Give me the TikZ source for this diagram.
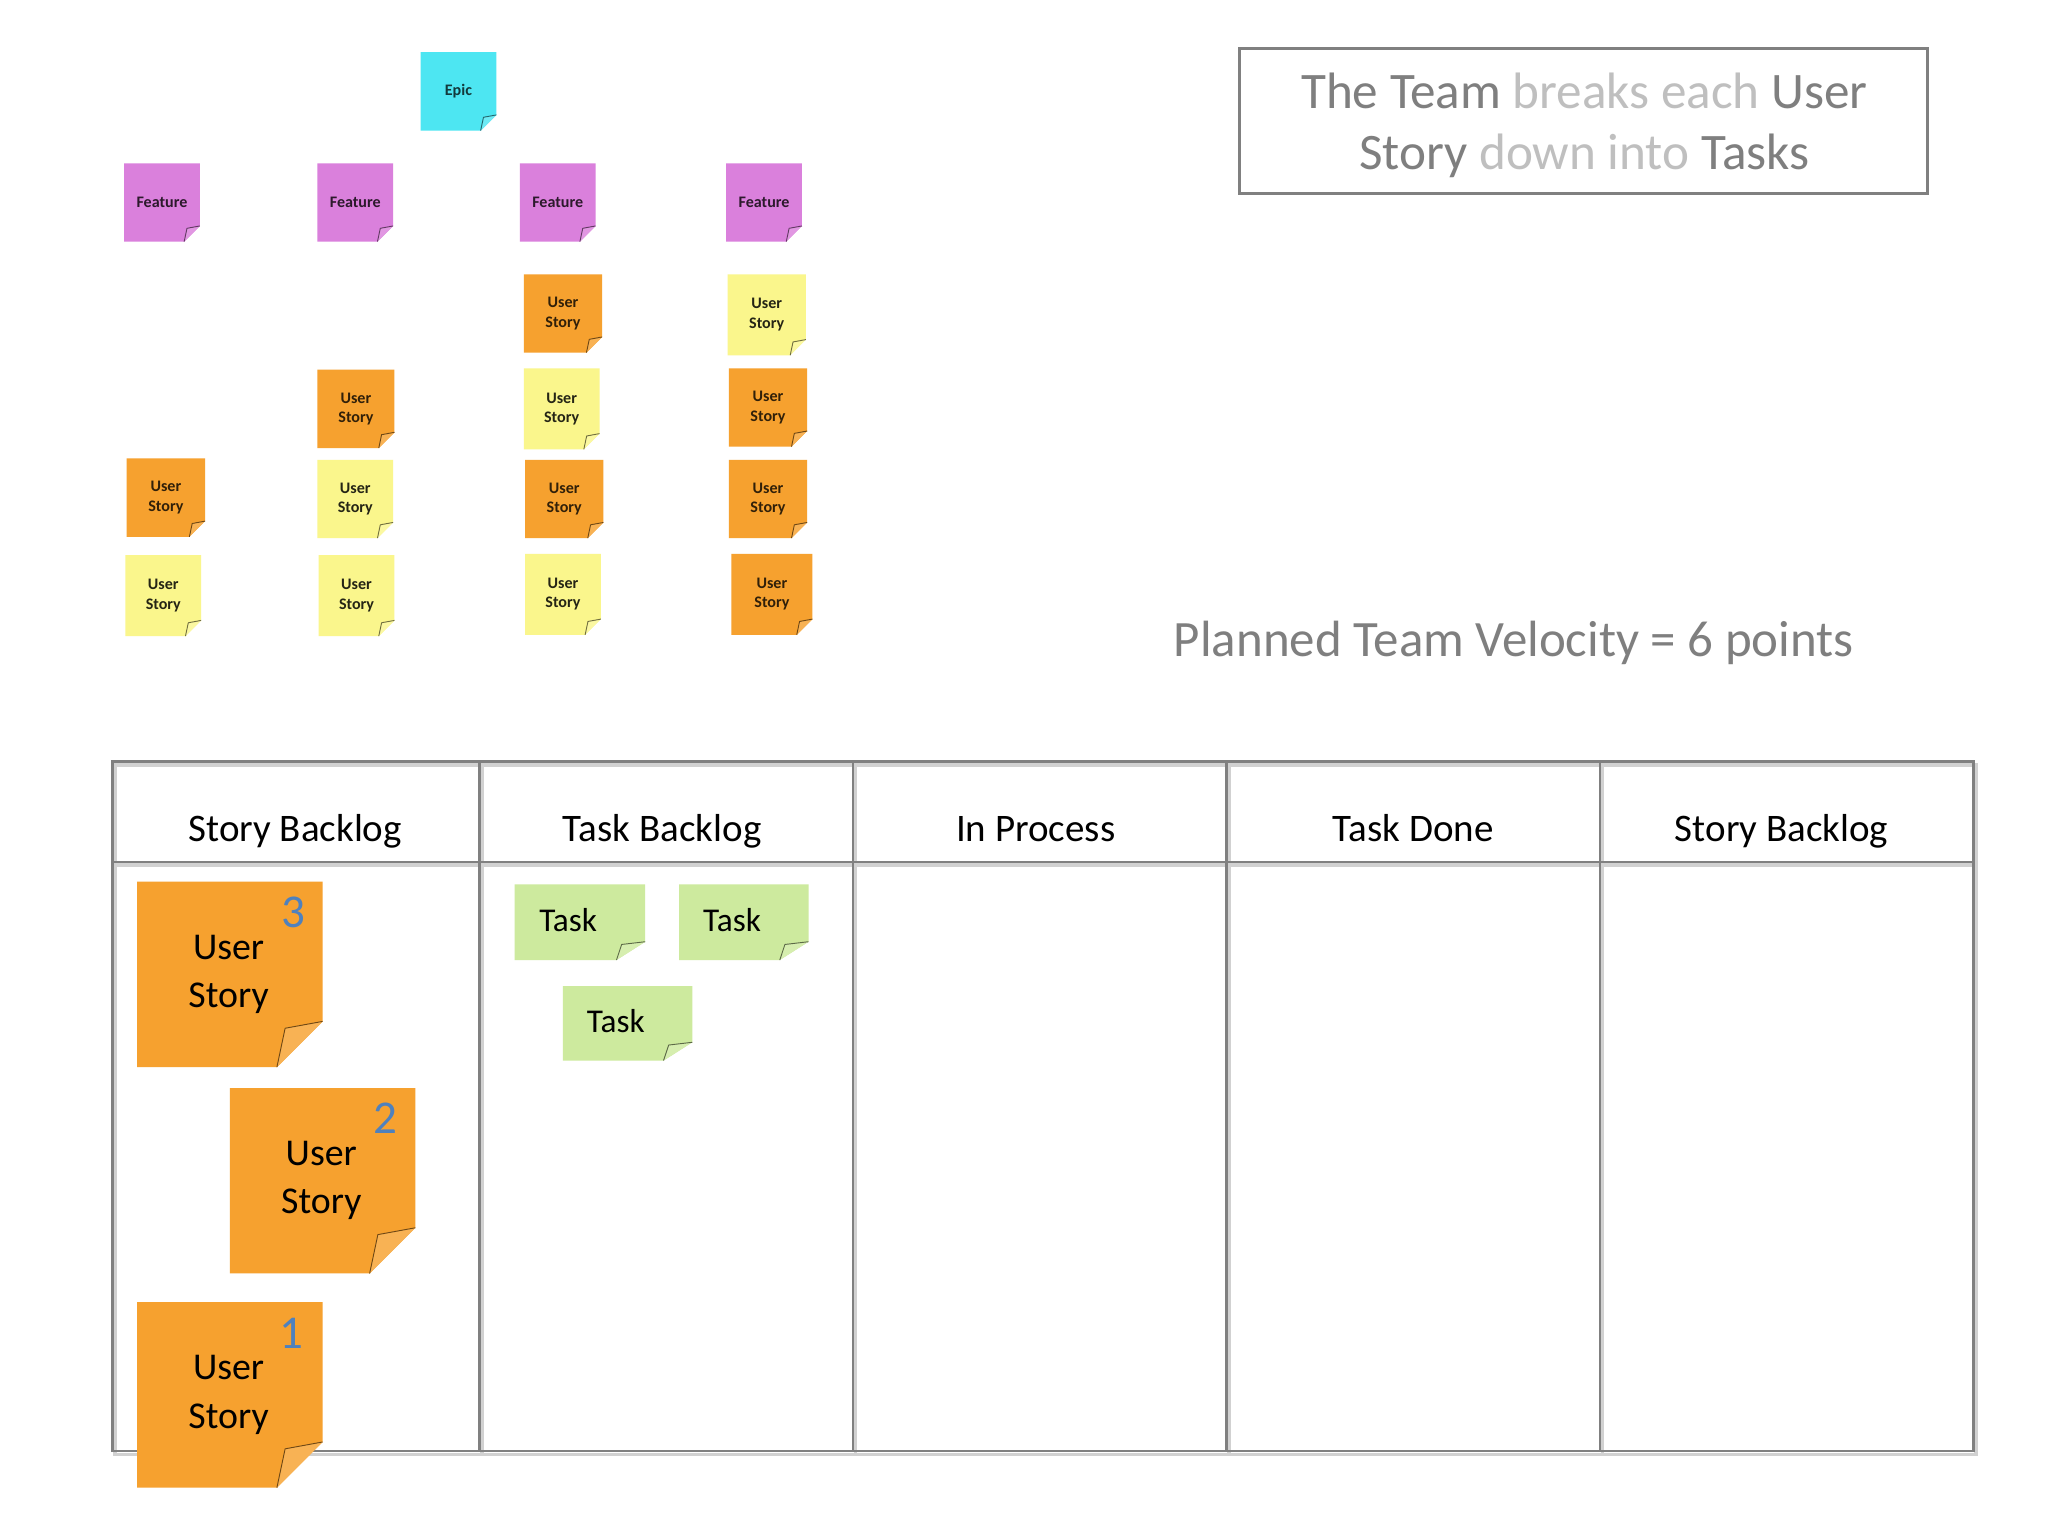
\documentclass[tikz,border=0pt]{standalone}
\usepackage{fontspec}
\setmainfont{Carlito}
\definecolor{orangeS}{HTML}{F6A12F}
\definecolor{yellowS}{HTML}{FAF68C}
\definecolor{purpleS}{HTML}{DA80DC}
\definecolor{cyanS}{HTML}{4DE6F2}
\definecolor{greenS}{HTML}{CDEA9E}
\definecolor{numblue}{HTML}{4F81BD}
\definecolor{linegray}{HTML}{808080}
\definecolor{darkgrayT}{HTML}{7F7F7F}
\definecolor{lightgrayT}{HTML}{BFBFBF}
\colorlet{stickcol}{orangeS}
\def\tfont{\normalsize}
\def\tcol{black}
\tikzset{
  sfill/.code={\colorlet{stickcol}{#1}},
  fw/.store in=\fw, fh/.store in=\fh,
  tx/.store in=\tx, ty/.store in=\ty,
  tfont/.store in=\tfont, tcol/.store in=\tcol,
  fw=12, fh=12, tx=0, ty=0,
  stext/.style={inner sep=0pt, align=center, font=\tfont, text=\tcol},
  smallst/.style={fw=12, fh=12, tfont={\fontsize{7}{8.5}\selectfont\bfseries}},
  bigst/.style={sfill=orangeS, fw=35, fh=35, tx=-1, tfont={\fontsize{16.5}{21}\selectfont}},
  taskst/.style={sfill=greenS, fw=22, fh=14, tx=-9, ty=-1.5, tfont={\fontsize{14.5}{17}\selectfont}},
  num/.style={inner sep=0pt, text=numblue, font=\fontsize{20.5}{24}\selectfont},
  head/.style={inner sep=0pt, anchor=base, font=\fontsize{17}{20}\selectfont},
  grid/.style={draw=linegray, line width=1.2pt},
  gridshadow/.style={draw=black!18, line width=1.6pt},
}
\newcommand\stick[7]{%
\begin{scope}[#1]
\fill[stickcol] (#3,#4) -- ({#3+#5},#4) -- ({#3+#5},{#4+#6-\fh}) -- ({#3+#5-\fw},{#4+#6}) -- (#3,{#4+#6}) -- cycle;
\filldraw[fill=stickcol!82!white, draw=stickcol!45!black, line width=0.4pt, line join=round]
  ({#3+#5},{#4+#6-\fh}) -- ({#3+#5-0.82*\fw},{#4+#6-0.85*\fh}) -- ({#3+#5-\fw},{#4+#6});
\node[stext] (#2) at ({#3+#5/2+\tx},{#4+#6/2+\ty}) {#7};
\end{scope}}
\begin{document}
\begin{tikzpicture}[x=0.02cm, y=-0.02cm]
\useasboundingbox (0,0) rectangle (1568,1176);
\fill[white] (0,0) rectangle (1568,1176);

% ---- hierarchy of small stickies ----
\stick{smallst, sfill=cyanS, tcol=cyanS!25!black}{epic}{322}{40}{58}{60}{Epic}
\stick{smallst, sfill=purpleS, tcol=purpleS!20!black}{f1}{95}{125}{58}{60}{Feature}
\stick{smallst, sfill=purpleS, tcol=purpleS!20!black}{f2}{243}{125}{58}{60}{Feature}
\stick{smallst, sfill=purpleS, tcol=purpleS!20!black}{f3}{398}{125}{58}{60}{Feature}
\stick{smallst, sfill=purpleS, tcol=purpleS!20!black}{f4}{556}{125}{58}{60}{Feature}
% column 1
\stick{smallst, sfill=orangeS, tcol=orangeS!20!black}{s11}{97}{351}{60}{60}{User\\Story}
\stick{smallst, sfill=yellowS, tcol=yellowS!15!black}{s12}{96}{425}{58}{62}{User\\Story}
% column 2
\stick{smallst, sfill=orangeS, tcol=orangeS!20!black}{s21}{243}{283}{59}{60}{User\\Story}
\stick{smallst, sfill=yellowS, tcol=yellowS!15!black}{s22}{243}{352}{58}{60}{User\\Story}
\stick{smallst, sfill=yellowS, tcol=yellowS!15!black}{s23}{244}{425}{58}{62}{User\\Story}
% column 3
\stick{smallst, sfill=orangeS, tcol=orangeS!20!black}{s31}{401}{210}{60}{60}{User\\Story}
\stick{smallst, sfill=yellowS, tcol=yellowS!15!black}{s32}{401}{282}{58}{62}{User\\Story}
\stick{smallst, sfill=orangeS, tcol=orangeS!20!black}{s33}{402}{352}{60}{60}{User\\Story}
\stick{smallst, sfill=yellowS, tcol=yellowS!15!black}{s34}{402}{424}{58}{62}{User\\Story}
% column 4
\stick{smallst, sfill=yellowS, tcol=yellowS!15!black}{s41}{557}{210}{60}{62}{User\\Story}
\stick{smallst, sfill=orangeS, tcol=orangeS!20!black}{s42}{558}{282}{60}{60}{User\\Story}
\stick{smallst, sfill=orangeS, tcol=orangeS!20!black}{s43}{558}{352}{60}{60}{User\\Story}
\stick{smallst, sfill=orangeS, tcol=orangeS!20!black}{s44}{560}{424}{62}{62}{User\\Story}

% ---- title box ----
\node[draw=linegray, line width=1.2pt, minimum width=527*0.02cm, minimum height=111*0.02cm, inner sep=0pt] (box) at (1212.5,92.5) {};
\node[inner sep=0pt, align=center, text=darkgrayT, font=\fontsize{22.3}{26.6}\selectfont] (title) at (1213,96)
  {The Team \textcolor{lightgrayT}{breaks each} User\\Story \textcolor{lightgrayT}{down into} Tasks};

% ---- velocity ----
\node[inner sep=0pt, anchor=base, text=darkgrayT, font=\fontsize{22.2}{26}\selectfont] (velocity) at (1159,502.8)
  {Planned Team Velocity = 6 points};

% ---- board ----
\begin{scope}[shift={(2,2.5)}]
\draw[gridshadow] (86,583) rectangle (1511,1111);
\draw[gridshadow] (86,660) -- (1511,660);
\foreach \xx in {367,653,939,1225} \draw[gridshadow] (\xx,583) -- (\xx,1111);
\end{scope}
\draw[grid] (86,583) rectangle (1511,1111);
\draw[grid] (86,660) -- (1511,660);
\foreach \xx in {367,653,939,1225} \draw[grid] (\xx,583) -- (\xx,1111);

\node[head] (h1) at (226,644) {Story Backlog};
\node[head] (h2) at (507,644) {Task Backlog};
\node[head] (h3) at (793,644) {In Process};
\node[head] (h4) at (1082,644) {Task Done};
\node[head] (h5) at (1364,644) {Story Backlog};

% ---- big user stories ----
\stick{bigst}{us3}{105}{675}{142}{142}{User\\Story}
\stick{bigst}{us2}{176}{833}{142}{142}{User\\Story}
\stick{bigst}{us1}{105}{997}{142}{142}{User\\Story}
\node[num] (n3) at (225,698.5) {3};
\node[num] (n2) at (295,856.5) {2};
\node[num] (n1) at (223,1021) {1};

% ---- tasks ----
\stick{taskst}{t1}{394}{677}{100}{58}{Task}
\stick{taskst}{t2}{520}{677}{99}{58}{Task}
\stick{taskst}{t3}{431}{755}{99}{57}{Task}
\end{tikzpicture}
\end{document}
